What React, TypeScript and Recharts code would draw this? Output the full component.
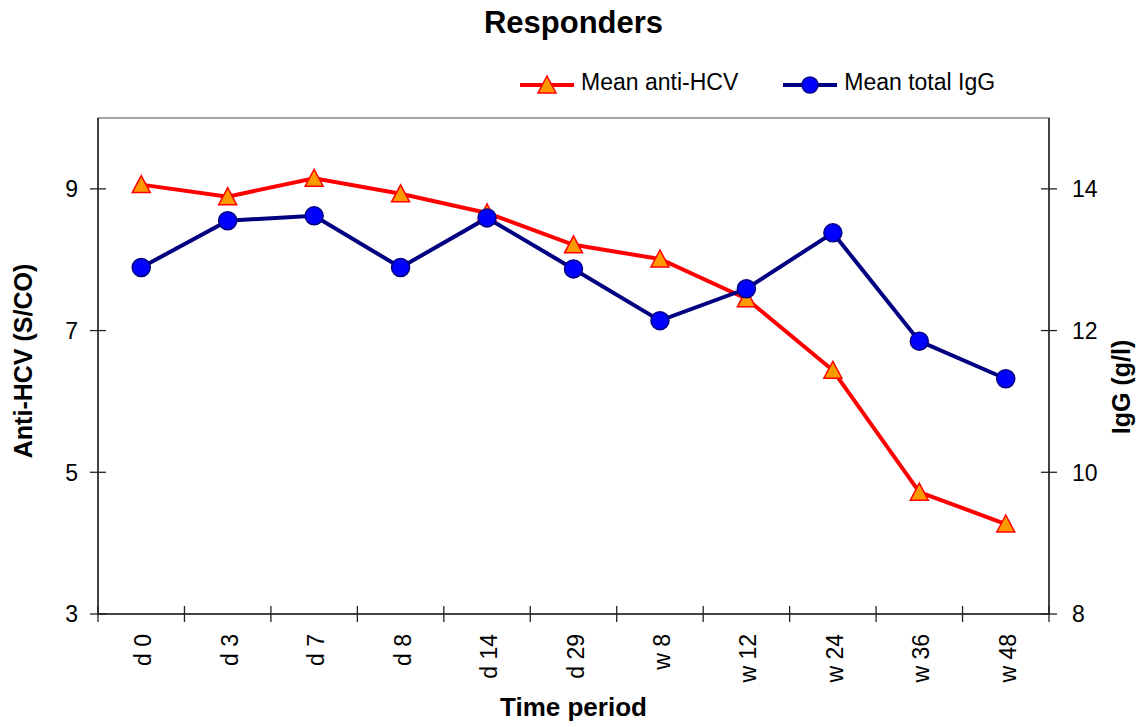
import React from 'react';
import { LineChart, Line, XAxis, YAxis, ReferenceArea, Label } from 'recharts';

const periods = ['d 0', 'd 3', 'd 7', 'd 8', 'd 14', 'd 29', 'w 8', 'w 12', 'w 24', 'w 36', 'w 48'];
const antiHcv = [9.06, 8.89, 9.15, 8.93, 8.66, 8.21, 8.01, 7.45, 6.44, 4.72, 4.27];
const totalIgG = [12.89, 13.55, 13.62, 12.89, 13.59, 12.87, 12.14, 12.59, 13.38, 11.85, 11.32];
const leftTicks = [3, 5, 7, 9];
const rightTicks = [8, 10, 12, 14];
const seriesNames = ['Mean anti-HCV', 'Mean total IgG'];

const data = periods.map((p, i) => ({ period: p, hcv: antiHcv[i], igg: totalIgG[i] }));

const FONT = '"Liberation Sans", Arial, sans-serif';
const AXIS = '#222';

const Triangle = (props: any) => {
  const { cx, cy, key } = props;
  if (cx == null || cy == null) return null;
  return (
    <polygon
      key={key}
      points={`${cx},${cy - 9} ${cx - 9},${cy + 8} ${cx + 9},${cy + 8}`}
      fill="#FF9900"
      stroke="#FF0000"
      strokeWidth={1.5}
    />
  );
};

const Dot = (props: any) => {
  const { cx, cy, key } = props;
  if (cx == null || cy == null) return null;
  return <circle key={key} cx={cx} cy={cy} r={9} fill="#0000FF" stroke="#000080" strokeWidth={1.5} />;
};

const XTick = (props: any) => {
  const { x, y, payload, index, visibleTicksCount } = props;
  const half = payload.offset ?? 0;
  return (
    <g>
      <line x1={x - half} x2={x - half} y1={y - 8} y2={y + 8} stroke={AXIS} strokeWidth={1.3} />
      {index === visibleTicksCount - 1 && (
        <line x1={x + half} x2={x + half} y1={y - 8} y2={y + 8} stroke={AXIS} strokeWidth={1.3} />
      )}
      <text transform={`translate(${x + 10},${y + 20}) rotate(-90)`} textAnchor="end" fontSize={23} fill="#000" fontFamily={FONT}>
        {payload.value}
      </text>
    </g>
  );
};

const LeftTick = (props: any) => {
  const { x, y, payload } = props;
  return (
    <g>
      <line x1={x - 8} x2={x + 8} y1={y} y2={y} stroke={AXIS} strokeWidth={1.3} />
      <text x={x - 20} y={y} dy="0.36em" textAnchor="end" fontSize={23} fill="#000" fontFamily={FONT}>
        {payload.value}
      </text>
    </g>
  );
};

const RightTick = (props: any) => {
  const { x, y, payload } = props;
  return (
    <g>
      <line x1={x - 8} x2={x + 8} y1={y} y2={y} stroke={AXIS} strokeWidth={1.3} />
      <text x={x + 23} y={y} dy="0.36em" textAnchor="start" fontSize={23} fill="#000" fontFamily={FONT}>
        {payload.value}
      </text>
    </g>
  );
};

const LegendItem = ({ name, marker, color, ml }: { name: string; marker: 'tri' | 'dot'; color: string; ml: number }) => (
  <div style={{ display: 'flex', alignItems: 'flex-start', marginLeft: ml }}>
    <svg width={56} height={24} style={{ display: 'block' }}>
      <line x1={1} x2={55} y1={15} y2={15} stroke={color} strokeWidth={4} />
      {marker === 'tri' ? (
        <polygon points="28,6 19,23 37,23" fill="#FF9900" stroke="#FF0000" strokeWidth={1.5} />
      ) : (
        <circle cx={28} cy={15} r={8} fill="#0000FF" stroke="#000080" strokeWidth={1.5} />
      )}
    </svg>
    <span style={{ fontSize: 23, lineHeight: '24px', marginLeft: 6, whiteSpace: 'nowrap' }}>{name}</span>
  </div>
);

export default function App() {
  return (
    <div style={{ position: 'relative', width: 1147, height: 727, fontFamily: FONT, background: '#fff' }}>
      <style>{'body{margin:0}'}</style>
      <div style={{ position: 'absolute', top: 7, left: 0, width: 1147, textAlign: 'center', fontSize: 31, fontWeight: 'bold', lineHeight: '31px' }}>
        Responders
      </div>
      <div style={{ position: 'absolute', top: 70, left: 519, display: 'flex' }}>
        <LegendItem name={seriesNames[0]} marker="tri" color="#FF0000" ml={0} />
        <LegendItem name={seriesNames[1]} marker="dot" color="#000080" ml={44} />
      </div>
      <LineChart width={1147} height={727} data={data} margin={{ top: 118, right: 13, bottom: 0, left: 13 }}>
        <ReferenceArea yAxisId="left" y1={3} y2={10} fill="none" stroke="#888" strokeWidth={1.5} ifOverflow="visible" />
        <XAxis
          dataKey="period"
          scale="band"
          height={113}
          stroke={AXIS}
          strokeWidth={1.5}
          tickLine={false}
          tickSize={0}
          tickMargin={0}
          interval={0}
          tick={<XTick />}
        >
          <Label value="Time period" position="insideBottom" offset={11} fontSize={26} fontWeight="bold" fill="#000" fontFamily={FONT} />
        </XAxis>
        <YAxis
          yAxisId="left"
          orientation="left"
          width={85}
          domain={[3, 10]}
          ticks={leftTicks}
          stroke={AXIS}
          strokeWidth={1.5}
          tickLine={false}
          tickSize={0}
          tickMargin={0}
          tick={<LeftTick />}
        >
          <Label value="Anti-HCV (S/CO)" angle={-90} position="center" dx={-32} dy={-5} fontSize={25} fontWeight="bold" fill="#000" fontFamily={FONT} />
        </YAxis>
        <YAxis
          yAxisId="right"
          orientation="right"
          width={85}
          domain={[8, 15]}
          ticks={rightTicks}
          stroke={AXIS}
          strokeWidth={1.5}
          tickLine={false}
          tickSize={0}
          tickMargin={0}
          tick={<RightTick />}
        >
          <Label value="IgG (g/l)" angle={-90} position="center" dx={30} dy={21} fontSize={25} fontWeight="bold" fill="#000" fontFamily={FONT} />
        </YAxis>
        <Line
          yAxisId="left"
          dataKey="hcv"
          name={seriesNames[0]}
          stroke="#FF0000"
          strokeWidth={4}
          dot={Triangle}
          activeDot={false}
          isAnimationActive={false}
        />
        <Line
          yAxisId="right"
          dataKey="igg"
          name={seriesNames[1]}
          stroke="#000080"
          strokeWidth={4}
          dot={Dot}
          activeDot={false}
          isAnimationActive={false}
        />
      </LineChart>
    </div>
  );
}
